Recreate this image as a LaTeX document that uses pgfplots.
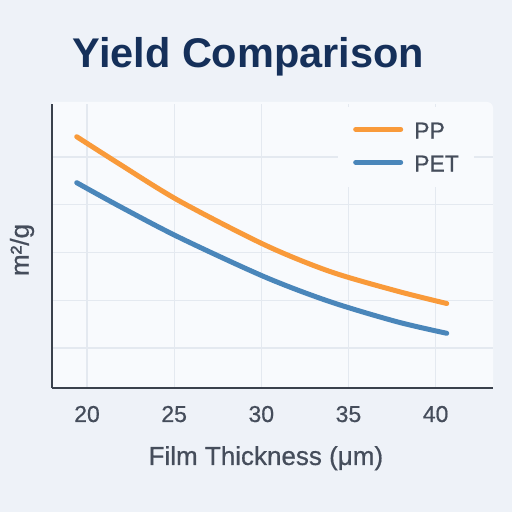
\documentclass[border=0pt]{standalone}
\usepackage{fontspec}
\setmainfont{Liberation Sans}
\newfontfamily\medfont[BoldFont={Liberation Sans}, BoldFeatures={FakeBold=0.6}]{Liberation Sans}
\usepackage{pgfplots}
\pgfplotsset{compat=1.18}

\definecolor{pagebg}{HTML}{EEF2F8}
\definecolor{plotbg}{HTML}{F8FAFD}
\definecolor{gridc}{HTML}{E4E9F0}
\definecolor{axisc}{HTML}{3A414C}
\definecolor{textc}{HTML}{454D5B}
\definecolor{titlec}{HTML}{15305A}
\definecolor{ppc}{HTML}{F99A3A}
\definecolor{petc}{HTML}{4A86BA}

\newcommand{\fs}[1]{\fontsize{#1}{1.2\dimexpr#1\relax}\selectfont}
\newcommand{\med}{\medfont\bfseries}

\begin{document}
\begin{tikzpicture}
\fill[pagebg] (0,0) rectangle (512bp,512bp);
\useasboundingbox (0,0) rectangle (512bp,512bp);
% plot panel, only the top right corner rounded
\fill[plotbg] (52bp,124bp) -- (52bp,410bp) -- (487bp,410bp)
  arc[start angle=90, end angle=0, radius=6bp] -- (493bp,124bp) -- cycle;
\node[anchor=base, text=titlec, font=\fs{41.5bp}\bfseries] at (248.5bp,444bp) {Yield Comparison};

\begin{axis}[
  at={(52bp,124bp)}, anchor=south west,
  scale only axis, width=441bp, height=284bp,
  xmin=17.992, xmax=43.293, ymin=0.1623, ymax=6.110,
  axis x line*=bottom, axis y line*=left,
  axis line style={draw=axisc, line width=2bp, -},
  every outer x axis line/.append style={-},
  every outer y axis line/.append style={-},
  xtick={20,25,30,35,40}, ytick={1,2,3,4,5}, yticklabels={},
  major tick length=0pt,
  grid=major, major grid style={draw=gridc, line width=1.2bp},
  /pgf/number format/assume math mode=true,
  xticklabel style={font=\fs{23bp}\med, text=textc, anchor=base, yshift=-34bp},
  xlabel={Film Thickness (μm)},
  xlabel style={at={(axis description cs:0.485,-0.271)}, anchor=base, font=\fs{26bp}\med, text=textc},
  ylabel={m²/g},
  ylabel style={at={(axis description cs:-0.068,0.486)}, anchor=center, font=\fs{26bp}\med, text=textc},
  legend cell align=left,
  legend image code/.code={\draw[#1, line width=5bp, line cap=round] (0bp,1bp) -- (45bp,1bp);},
  legend style={draw=none, fill=plotbg, inner xsep=15bp, inner ysep=15bp,
    at={(axis description cs:0.6485,0.990)}, anchor=north west,
    font=\fs{23bp}\med, text=textc, row sep=16.5bp,
    nodes={inner sep=0pt, text height=16.5bp, text depth=0pt},
    /tikz/every odd column/.append style={column sep=11bp}},
]
\addplot[ppc, line width=5bp, line cap=round, smooth] coordinates {
  (19.41,5.425) (21.89,4.847) (25.30,4.079) (30.21,3.157)
  (33.94,2.602) (37.77,2.194) (40.64,1.932)
};
\addlegendentry{PP}
\addplot[petc, line width=5bp, line cap=round, smooth] coordinates {
  (19.41,4.462) (21.89,3.963) (25.30,3.314) (30.21,2.487)
  (33.94,1.970) (37.77,1.551) (40.64,1.308)
};
\addlegendentry{PET}
\end{axis}
\end{tikzpicture}
\end{document}
